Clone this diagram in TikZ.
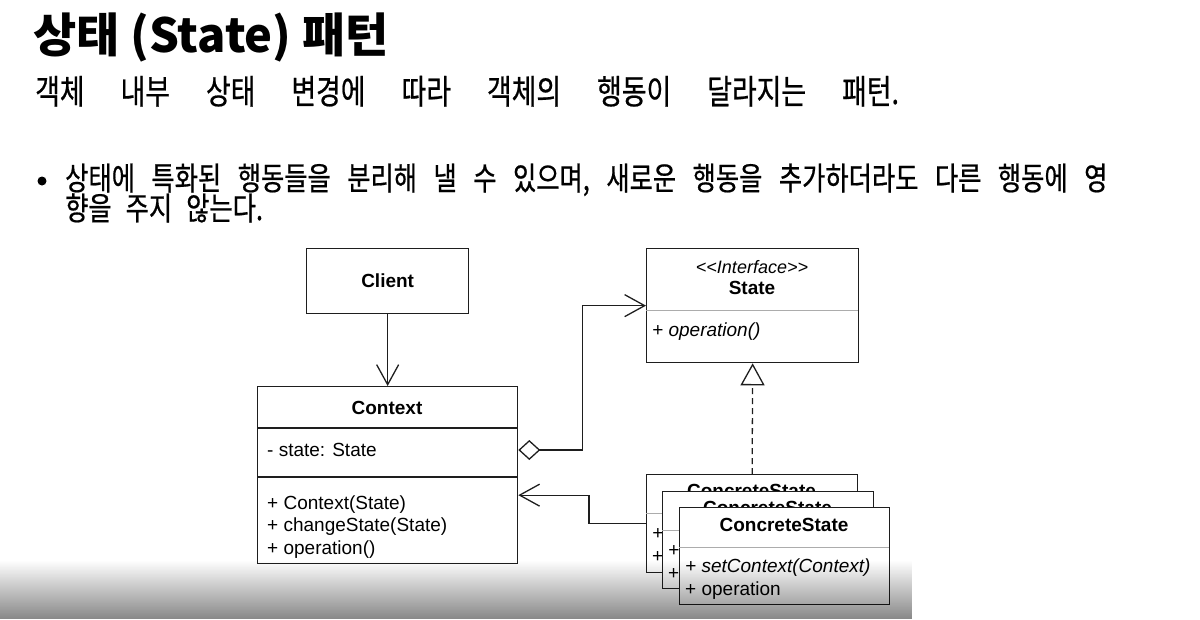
\documentclass[tikz,border=0pt]{standalone}
\usepackage{fontspec}
\setmainfont{Liberation Sans}
\newfontfamily\kr{Noto Sans CJK KR}
\newfontfamily\krn{Noto Sans CJK KR}[FakeStretch=0.79, FakeBold=0.6]
\usetikzlibrary{arrows.meta, fadings}
\definecolor{LineInk}{RGB}{30, 30, 30}

\begin{document}
\begin{tikzpicture}[x=1pt, y=-1pt,
    box/.style={draw=LineInk, line width=1.3pt, fill=white, anchor=north west, inner sep=0pt},
    cname/.style={font=\bfseries\fontsize{19}{22}\selectfont, inner sep=0pt},
    member/.style={anchor=west, font=\fontsize{19}{22}\selectfont, inner sep=0pt},
    abstract/.style={anchor=west, font=\itshape\fontsize{19}{22}\selectfont, inner sep=0pt},
    darkrule/.style={draw=LineInk, line width=1.3pt},
    greyrule/.style={draw=gray!65, line width=1pt},
    link/.style={draw=LineInk, line width=1.3pt},
    assoc/.style={link, -{Straight Barb[length=20pt, width=22pt]}},
    realize/.style={link, dash pattern=on 6pt off 4pt, -{Triangle[open, length=22pt, width=24pt, fill=white]}},
    krline/.style={anchor=base west, inner sep=0pt, font=\krn\fontsize{32}{36}\selectfont}
]
    \useasboundingbox (0,0) rectangle (1200,619);

    % Heading
    \node[anchor=base west, inner sep=0pt, font=\kr\bfseries\fontsize{47}{52}\selectfont] (title) at (33, 52) {상태 (State) 패턴};
    \node[anchor=base west, inner sep=0pt, font=\krn\fontsize{34}{38}\selectfont] (subtitle) at (35, 104)
        {\spaceskip=36pt\relax 객체 내부 상태 변경에 따라 객체의 행동이 달라지는 패턴.};

    % Bullet
    \node[circle, fill=black, inner sep=0pt, minimum size=9pt] (dot) at (42, 181) {};
    \node[krline] (point) at (65, 190)
        {\spaceskip=16.5pt\relax 상태에 특화된 행동들을 분리해 낼 수 있으며, 새로운 행동을 추가하더라도 다른 행동에 영};
    \node[krline] (pointrest) at (65, 220) {\spaceskip=14pt\relax 향을 주지 않는다.};

    % Client
    \node[box, minimum width=162pt, minimum height=65pt, font=\bfseries\fontsize{19}{22}\selectfont] (client) at (306, 248) {Client};

    % Context
    \node[box, minimum width=260pt, minimum height=177pt] (context) at (257, 386) {};
    \node[cname] (ctxname) at (387, 408) {Context};
    \draw[darkrule] (257, 428) -- (517, 428);
    \draw[darkrule] (257, 477) -- (517, 477);
    \node[member] (ctxattr) at (267, 450) {- state: State};
    \node[member] (ctxm1) at (267, 505) {+ Context(State)};
    \node[member] (ctxm2) at (267, 527) {+ changeState(State)};
    \node[member] (ctxm3) at (267, 550) {+ operation()};

    % State interface
    \node[box, minimum width=212pt, minimum height=114pt] (state) at (646, 248) {};
    \node[inner sep=0pt, font=\itshape\fontsize{18}{20}\selectfont] (stereo) at (752, 267)
        {\textless\kern0pt\textless Interface\textgreater\kern0pt\textgreater};
    \node[cname] (statename) at (752, 288) {State};
    \draw[greyrule] (646, 310) -- (858, 310);
    \node[abstract] (stateop) at (652, 332) {+ operation()};

    % ConcreteState, back
    \node[box, minimum width=211pt, minimum height=98pt] (cs1) at (646, 474) {};
    \node[cname] (cs1name) at (751.5, 491) {ConcreteState};
    \draw[greyrule] (646, 513) -- (857, 513);
    \node[abstract] (cs1m1) at (652, 535) {+ setContext(Context)};
    \node[member] (cs1m2) at (652, 558) {+ operation};

    % ConcreteState, middle
    \node[box, minimum width=211pt, minimum height=97pt] (cs2) at (662, 491) {};
    \node[cname] (cs2name) at (767.5, 508) {ConcreteState};
    \draw[greyrule] (662, 530) -- (873, 530);
    \node[abstract] (cs2m1) at (668, 552) {+ setContext(Context)};
    \node[member] (cs2m2) at (668, 575) {+ operation};

    % ConcreteState, front
    \node[box, minimum width=210pt, minimum height=97pt] (cs3) at (679, 507) {};
    \node[cname] (cs3name) at (784, 525) {ConcreteState};
    \draw[greyrule] (679, 547) -- (889, 547);
    \node[abstract] (cs3m1) at (685, 568) {+ setContext(Context)};
    \node[member] (cs3m2) at (685, 591) {+ operation};

    % Relations
    \draw[assoc] (client.south) -- (context.north);
    \draw[link, {Diamond[open, length=22pt, width=20pt]}-{Straight Barb[length=20pt, width=22pt]}]
        (context.east |- ctxattr) -- ++(64, 0) |- (state.west);
    \draw[assoc] (cs1.west) -- ++(-57, 0) |- ([yshift=-20pt]context.east);
    \draw[realize] (cs1.north) -- (state.south);

    % Video shade along the bottom
    \fill[black, fill opacity=0.47, path fading=north] (0, 560) rectangle (914, 619);
\end{tikzpicture}
\end{document}
